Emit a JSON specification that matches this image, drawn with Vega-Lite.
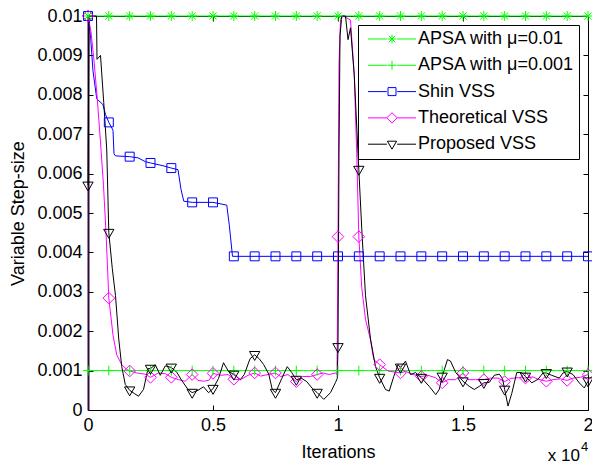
{
  "$schema": "https://vega.github.io/schema/vega-lite/v6.json",
  "autosize": "none",
  "width": 500,
  "height": 394,
  "padding": {"left": 88, "top": 16, "right": 4, "bottom": 54},
  "background": "white",
  "config": {
    "view": {"stroke": null},
    "font": "Liberation Sans",
    "axis": {"grid": false, "labelFont": "Liberation Sans", "labelFontSize": 18, "labelColor": "black", "titleFont": "Liberation Sans", "titleFontSize": 18, "titleFontWeight": "normal", "titleColor": "black", "tickColor": "black", "domainColor": "black", "tickSize": -5},
    "legend": {"strokeColor": "black", "fillColor": "white", "padding": 5, "cornerRadius": 0, "labelFont": "Liberation Sans", "labelFontSize": 18, "labelColor": "black", "symbolSize": 64, "symbolStrokeWidth": 1, "symbolOffset": 20, "labelOffset": 17, "rowPadding": 8.3, "labelLimit": 300}
  },
  "datasets": {
    "lines": [
      {"s": "APSA with μ=0.01", "x": 0, "y": 0.01}, {"s": "APSA with μ=0.01", "x": 2, "y": 0.01},
      {"s": "APSA with μ=0.001", "x": 0, "y": 0.001}, {"s": "APSA with μ=0.001", "x": 2, "y": 0.001},
      {"s": "Shin VSS", "x": 0, "y": 0.01}, {"s": "Shin VSS", "x": 0.01, "y": 0.0095}, {"s": "Shin VSS", "x": 0.02, "y": 0.0086}, {"s": "Shin VSS", "x": 0.035, "y": 0.0079}, {"s": "Shin VSS", "x": 0.06, "y": 0.00775}, {"s": "Shin VSS", "x": 0.07, "y": 0.0075}, {"s": "Shin VSS", "x": 0.0833, "y": 0.0073}, {"s": "Shin VSS", "x": 0.1, "y": 0.0071}, {"s": "Shin VSS", "x": 0.104, "y": 0.0065}, {"s": "Shin VSS", "x": 0.11, "y": 0.00645}, {"s": "Shin VSS", "x": 0.1667, "y": 0.00643}, {"s": "Shin VSS", "x": 0.2, "y": 0.0064}, {"s": "Shin VSS", "x": 0.23, "y": 0.0063}, {"s": "Shin VSS", "x": 0.25, "y": 0.00627}, {"s": "Shin VSS", "x": 0.3, "y": 0.0062}, {"s": "Shin VSS", "x": 0.3333, "y": 0.00614}, {"s": "Shin VSS", "x": 0.36, "y": 0.0061}, {"s": "Shin VSS", "x": 0.372, "y": 0.0056}, {"s": "Shin VSS", "x": 0.383, "y": 0.0053}, {"s": "Shin VSS", "x": 0.4167, "y": 0.00527}, {"s": "Shin VSS", "x": 0.5, "y": 0.00527}, {"s": "Shin VSS", "x": 0.555, "y": 0.0052}, {"s": "Shin VSS", "x": 0.565, "y": 0.0047}, {"s": "Shin VSS", "x": 0.578, "y": 0.0039}, {"s": "Shin VSS", "x": 2, "y": 0.0039},
      {"s": "Theoretical VSS", "x": 0, "y": 0.01}, {"s": "Theoretical VSS", "x": 0.012, "y": 0.0096}, {"s": "Theoretical VSS", "x": 0.025, "y": 0.0088}, {"s": "Theoretical VSS", "x": 0.037, "y": 0.0079}, {"s": "Theoretical VSS", "x": 0.05, "y": 0.0068}, {"s": "Theoretical VSS", "x": 0.062, "y": 0.0057}, {"s": "Theoretical VSS", "x": 0.072, "y": 0.0045}, {"s": "Theoretical VSS", "x": 0.0833, "y": 0.00284}, {"s": "Theoretical VSS", "x": 0.1, "y": 0.0019}, {"s": "Theoretical VSS", "x": 0.115, "y": 0.0014}, {"s": "Theoretical VSS", "x": 0.135, "y": 0.00115}, {"s": "Theoretical VSS", "x": 0.155, "y": 0.00103}, {"s": "Theoretical VSS", "x": 0.1667, "y": 0.00099}, {"s": "Theoretical VSS", "x": 0.195, "y": 0.00094}, {"s": "Theoretical VSS", "x": 0.227, "y": 0.00091}, {"s": "Theoretical VSS", "x": 0.25, "y": 0.00083}, {"s": "Theoretical VSS", "x": 0.282, "y": 0.00094}, {"s": "Theoretical VSS", "x": 0.31, "y": 0.00092}, {"s": "Theoretical VSS", "x": 0.3333, "y": 0.00083}, {"s": "Theoretical VSS", "x": 0.362, "y": 0.00077}, {"s": "Theoretical VSS", "x": 0.389, "y": 0.00073}, {"s": "Theoretical VSS", "x": 0.4167, "y": 0.0009}, {"s": "Theoretical VSS", "x": 0.44, "y": 0.00075}, {"s": "Theoretical VSS", "x": 0.465, "y": 0.00073}, {"s": "Theoretical VSS", "x": 0.485, "y": 0.00076}, {"s": "Theoretical VSS", "x": 0.5, "y": 0.00093}, {"s": "Theoretical VSS", "x": 0.53, "y": 0.00088}, {"s": "Theoretical VSS", "x": 0.56, "y": 0.0009}, {"s": "Theoretical VSS", "x": 0.5833, "y": 0.00078}, {"s": "Theoretical VSS", "x": 0.61, "y": 0.00077}, {"s": "Theoretical VSS", "x": 0.64, "y": 0.00088}, {"s": "Theoretical VSS", "x": 0.6667, "y": 0.00094}, {"s": "Theoretical VSS", "x": 0.69, "y": 0.00086}, {"s": "Theoretical VSS", "x": 0.72, "y": 0.0009}, {"s": "Theoretical VSS", "x": 0.75, "y": 0.00094}, {"s": "Theoretical VSS", "x": 0.77, "y": 0.00085}, {"s": "Theoretical VSS", "x": 0.8, "y": 0.0009}, {"s": "Theoretical VSS", "x": 0.8333, "y": 0.00072}, {"s": "Theoretical VSS", "x": 0.86, "y": 0.00085}, {"s": "Theoretical VSS", "x": 0.89, "y": 0.00085}, {"s": "Theoretical VSS", "x": 0.9167, "y": 0.0009}, {"s": "Theoretical VSS", "x": 0.94, "y": 0.00094}, {"s": "Theoretical VSS", "x": 0.965, "y": 0.0009}, {"s": "Theoretical VSS", "x": 0.99, "y": 0.00094}, {"s": "Theoretical VSS", "x": 0.996, "y": 0.0009}, {"s": "Theoretical VSS", "x": 1, "y": 0.0044}, {"s": "Theoretical VSS", "x": 1.004, "y": 0.0088}, {"s": "Theoretical VSS", "x": 1.01, "y": 0.0099}, {"s": "Theoretical VSS", "x": 1.02, "y": 0.01}, {"s": "Theoretical VSS", "x": 1.05, "y": 0.0099}, {"s": "Theoretical VSS", "x": 1.065, "y": 0.0085}, {"s": "Theoretical VSS", "x": 1.075, "y": 0.0065}, {"s": "Theoretical VSS", "x": 1.0833, "y": 0.0044}, {"s": "Theoretical VSS", "x": 1.095, "y": 0.0031}, {"s": "Theoretical VSS", "x": 1.11, "y": 0.0023}, {"s": "Theoretical VSS", "x": 1.13, "y": 0.00178}, {"s": "Theoretical VSS", "x": 1.143, "y": 0.00128}, {"s": "Theoretical VSS", "x": 1.1667, "y": 0.00115}, {"s": "Theoretical VSS", "x": 1.2, "y": 0.00099}, {"s": "Theoretical VSS", "x": 1.23, "y": 0.00096}, {"s": "Theoretical VSS", "x": 1.25, "y": 0.00094}, {"s": "Theoretical VSS", "x": 1.27, "y": 0.00098}, {"s": "Theoretical VSS", "x": 1.3, "y": 0.0009}, {"s": "Theoretical VSS", "x": 1.3333, "y": 0.00085}, {"s": "Theoretical VSS", "x": 1.36, "y": 0.00088}, {"s": "Theoretical VSS", "x": 1.39, "y": 0.00082}, {"s": "Theoretical VSS", "x": 1.4167, "y": 0.00069}, {"s": "Theoretical VSS", "x": 1.44, "y": 0.00077}, {"s": "Theoretical VSS", "x": 1.47, "y": 0.00077}, {"s": "Theoretical VSS", "x": 1.5, "y": 0.00094}, {"s": "Theoretical VSS", "x": 1.52, "y": 0.00077}, {"s": "Theoretical VSS", "x": 1.55, "y": 0.00077}, {"s": "Theoretical VSS", "x": 1.5833, "y": 0.00077}, {"s": "Theoretical VSS", "x": 1.61, "y": 0.00081}, {"s": "Theoretical VSS", "x": 1.64, "y": 0.00081}, {"s": "Theoretical VSS", "x": 1.6667, "y": 0.00072}, {"s": "Theoretical VSS", "x": 1.69, "y": 0.0008}, {"s": "Theoretical VSS", "x": 1.72, "y": 0.00082}, {"s": "Theoretical VSS", "x": 1.75, "y": 0.00081}, {"s": "Theoretical VSS", "x": 1.78, "y": 0.00084}, {"s": "Theoretical VSS", "x": 1.8, "y": 0.00078}, {"s": "Theoretical VSS", "x": 1.8333, "y": 0.00073}, {"s": "Theoretical VSS", "x": 1.86, "y": 0.00077}, {"s": "Theoretical VSS", "x": 1.89, "y": 0.00079}, {"s": "Theoretical VSS", "x": 1.9167, "y": 0.00075}, {"s": "Theoretical VSS", "x": 1.94, "y": 0.00081}, {"s": "Theoretical VSS", "x": 1.97, "y": 0.00083}, {"s": "Theoretical VSS", "x": 2, "y": 0.0009},
      {"s": "Proposed VSS", "x": 0, "y": 0.0057}, {"s": "Proposed VSS", "x": 0.004, "y": 0.01}, {"s": "Proposed VSS", "x": 0.034, "y": 0.01}, {"s": "Proposed VSS", "x": 0.036, "y": 0.0089}, {"s": "Proposed VSS", "x": 0.05, "y": 0.009}, {"s": "Proposed VSS", "x": 0.063, "y": 0.0078}, {"s": "Proposed VSS", "x": 0.075, "y": 0.0066}, {"s": "Proposed VSS", "x": 0.0833, "y": 0.0045}, {"s": "Proposed VSS", "x": 0.097, "y": 0.0036}, {"s": "Proposed VSS", "x": 0.11, "y": 0.0029}, {"s": "Proposed VSS", "x": 0.123, "y": 0.0018}, {"s": "Proposed VSS", "x": 0.135, "y": 0.0011}, {"s": "Proposed VSS", "x": 0.149, "y": 0.00065}, {"s": "Proposed VSS", "x": 0.1667, "y": 0.0005}, {"s": "Proposed VSS", "x": 0.185, "y": 0.00042}, {"s": "Proposed VSS", "x": 0.202, "y": 0.00035}, {"s": "Proposed VSS", "x": 0.222, "y": 0.00052}, {"s": "Proposed VSS", "x": 0.24, "y": 0.00105}, {"s": "Proposed VSS", "x": 0.25, "y": 0.00105}, {"s": "Proposed VSS", "x": 0.269, "y": 0.00115}, {"s": "Proposed VSS", "x": 0.289, "y": 0.00088}, {"s": "Proposed VSS", "x": 0.309, "y": 0.00112}, {"s": "Proposed VSS", "x": 0.3333, "y": 0.00108}, {"s": "Proposed VSS", "x": 0.355, "y": 0.00096}, {"s": "Proposed VSS", "x": 0.375, "y": 0.00075}, {"s": "Proposed VSS", "x": 0.4, "y": 0.00052}, {"s": "Proposed VSS", "x": 0.4167, "y": 0.00044}, {"s": "Proposed VSS", "x": 0.44, "y": 0.0005}, {"s": "Proposed VSS", "x": 0.462, "y": 0.00059}, {"s": "Proposed VSS", "x": 0.482, "y": 0.00044}, {"s": "Proposed VSS", "x": 0.5, "y": 0.00054}, {"s": "Proposed VSS", "x": 0.522, "y": 0.0008}, {"s": "Proposed VSS", "x": 0.542, "y": 0.0012}, {"s": "Proposed VSS", "x": 0.562, "y": 0.00098}, {"s": "Proposed VSS", "x": 0.5833, "y": 0.0009}, {"s": "Proposed VSS", "x": 0.609, "y": 0.00077}, {"s": "Proposed VSS", "x": 0.625, "y": 0.0009}, {"s": "Proposed VSS", "x": 0.648, "y": 0.0013}, {"s": "Proposed VSS", "x": 0.6667, "y": 0.0014}, {"s": "Proposed VSS", "x": 0.685, "y": 0.0013}, {"s": "Proposed VSS", "x": 0.703, "y": 0.00115}, {"s": "Proposed VSS", "x": 0.723, "y": 0.00091}, {"s": "Proposed VSS", "x": 0.737, "y": 0.00052}, {"s": "Proposed VSS", "x": 0.75, "y": 0.00044}, {"s": "Proposed VSS", "x": 0.775, "y": 0.0008}, {"s": "Proposed VSS", "x": 0.797, "y": 0.0011}, {"s": "Proposed VSS", "x": 0.815, "y": 0.00095}, {"s": "Proposed VSS", "x": 0.8333, "y": 0.00077}, {"s": "Proposed VSS", "x": 0.855, "y": 0.0008}, {"s": "Proposed VSS", "x": 0.875, "y": 0.00072}, {"s": "Proposed VSS", "x": 0.897, "y": 0.00055}, {"s": "Proposed VSS", "x": 0.9167, "y": 0.00044}, {"s": "Proposed VSS", "x": 0.943, "y": 0.00027}, {"s": "Proposed VSS", "x": 0.97, "y": 0.00044}, {"s": "Proposed VSS", "x": 0.99, "y": 0.0007}, {"s": "Proposed VSS", "x": 0.997, "y": 0.0008}, {"s": "Proposed VSS", "x": 1, "y": 0.0016}, {"s": "Proposed VSS", "x": 1.004, "y": 0.0065}, {"s": "Proposed VSS", "x": 1.008, "y": 0.0095}, {"s": "Proposed VSS", "x": 1.015, "y": 0.01}, {"s": "Proposed VSS", "x": 1.03, "y": 0.01}, {"s": "Proposed VSS", "x": 1.04, "y": 0.0094}, {"s": "Proposed VSS", "x": 1.05, "y": 0.0097}, {"s": "Proposed VSS", "x": 1.065, "y": 0.0085}, {"s": "Proposed VSS", "x": 1.0833, "y": 0.0061}, {"s": "Proposed VSS", "x": 1.095, "y": 0.0046}, {"s": "Proposed VSS", "x": 1.11, "y": 0.0029}, {"s": "Proposed VSS", "x": 1.13, "y": 0.0018}, {"s": "Proposed VSS", "x": 1.15, "y": 0.0011}, {"s": "Proposed VSS", "x": 1.1667, "y": 0.00082}, {"s": "Proposed VSS", "x": 1.19, "y": 0.00052}, {"s": "Proposed VSS", "x": 1.205, "y": 0.00048}, {"s": "Proposed VSS", "x": 1.223, "y": 0.00085}, {"s": "Proposed VSS", "x": 1.24, "y": 0.00115}, {"s": "Proposed VSS", "x": 1.25, "y": 0.00108}, {"s": "Proposed VSS", "x": 1.27, "y": 0.00124}, {"s": "Proposed VSS", "x": 1.29, "y": 0.0009}, {"s": "Proposed VSS", "x": 1.31, "y": 0.00095}, {"s": "Proposed VSS", "x": 1.3333, "y": 0.00082}, {"s": "Proposed VSS", "x": 1.365, "y": 0.0006}, {"s": "Proposed VSS", "x": 1.391, "y": 0.00039}, {"s": "Proposed VSS", "x": 1.405, "y": 0.00052}, {"s": "Proposed VSS", "x": 1.4167, "y": 0.00085}, {"s": "Proposed VSS", "x": 1.438, "y": 0.00128}, {"s": "Proposed VSS", "x": 1.45, "y": 0.00124}, {"s": "Proposed VSS", "x": 1.471, "y": 0.00095}, {"s": "Proposed VSS", "x": 1.5, "y": 0.00073}, {"s": "Proposed VSS", "x": 1.525, "y": 0.0006}, {"s": "Proposed VSS", "x": 1.545, "y": 0.00052}, {"s": "Proposed VSS", "x": 1.565, "y": 0.0006}, {"s": "Proposed VSS", "x": 1.5833, "y": 0.00069}, {"s": "Proposed VSS", "x": 1.605, "y": 0.0007}, {"s": "Proposed VSS", "x": 1.625, "y": 0.00088}, {"s": "Proposed VSS", "x": 1.645, "y": 0.00091}, {"s": "Proposed VSS", "x": 1.658, "y": 0.0008}, {"s": "Proposed VSS", "x": 1.6667, "y": 0.00052}, {"s": "Proposed VSS", "x": 1.68, "y": 0.0001}, {"s": "Proposed VSS", "x": 1.695, "y": 0.00042}, {"s": "Proposed VSS", "x": 1.715, "y": 0.00095}, {"s": "Proposed VSS", "x": 1.735, "y": 0.00095}, {"s": "Proposed VSS", "x": 1.75, "y": 0.00085}, {"s": "Proposed VSS", "x": 1.775, "y": 0.00069}, {"s": "Proposed VSS", "x": 1.8, "y": 0.00078}, {"s": "Proposed VSS", "x": 1.82, "y": 0.00094}, {"s": "Proposed VSS", "x": 1.8333, "y": 0.00094}, {"s": "Proposed VSS", "x": 1.855, "y": 0.00088}, {"s": "Proposed VSS", "x": 1.885, "y": 0.00081}, {"s": "Proposed VSS", "x": 1.9, "y": 0.00094}, {"s": "Proposed VSS", "x": 1.9167, "y": 0.00098}, {"s": "Proposed VSS", "x": 1.94, "y": 0.0009}, {"s": "Proposed VSS", "x": 1.965, "y": 0.00069}, {"s": "Proposed VSS", "x": 1.985, "y": 0.00056}, {"s": "Proposed VSS", "x": 2, "y": 0.00073}
    ],
    "markers": [
      {"s": "APSA with μ=0.01", "x": 0, "y": 0.01}, {"s": "APSA with μ=0.01", "x": 0.0833, "y": 0.01}, {"s": "APSA with μ=0.01", "x": 0.1667, "y": 0.01}, {"s": "APSA with μ=0.01", "x": 0.25, "y": 0.01}, {"s": "APSA with μ=0.01", "x": 0.3333, "y": 0.01}, {"s": "APSA with μ=0.01", "x": 0.4167, "y": 0.01}, {"s": "APSA with μ=0.01", "x": 0.5, "y": 0.01}, {"s": "APSA with μ=0.01", "x": 0.5833, "y": 0.01}, {"s": "APSA with μ=0.01", "x": 0.6667, "y": 0.01}, {"s": "APSA with μ=0.01", "x": 0.75, "y": 0.01}, {"s": "APSA with μ=0.01", "x": 0.8333, "y": 0.01}, {"s": "APSA with μ=0.01", "x": 0.9167, "y": 0.01}, {"s": "APSA with μ=0.01", "x": 1, "y": 0.01}, {"s": "APSA with μ=0.01", "x": 1.0833, "y": 0.01}, {"s": "APSA with μ=0.01", "x": 1.1667, "y": 0.01}, {"s": "APSA with μ=0.01", "x": 1.25, "y": 0.01}, {"s": "APSA with μ=0.01", "x": 1.3333, "y": 0.01}, {"s": "APSA with μ=0.01", "x": 1.4167, "y": 0.01}, {"s": "APSA with μ=0.01", "x": 1.5, "y": 0.01}, {"s": "APSA with μ=0.01", "x": 1.5833, "y": 0.01}, {"s": "APSA with μ=0.01", "x": 1.6667, "y": 0.01}, {"s": "APSA with μ=0.01", "x": 1.75, "y": 0.01}, {"s": "APSA with μ=0.01", "x": 1.8333, "y": 0.01}, {"s": "APSA with μ=0.01", "x": 1.9167, "y": 0.01}, {"s": "APSA with μ=0.01", "x": 2, "y": 0.01},
      {"s": "APSA with μ=0.001", "x": 0, "y": 0.001}, {"s": "APSA with μ=0.001", "x": 0.0833, "y": 0.001}, {"s": "APSA with μ=0.001", "x": 0.1667, "y": 0.001}, {"s": "APSA with μ=0.001", "x": 0.25, "y": 0.001}, {"s": "APSA with μ=0.001", "x": 0.3333, "y": 0.001}, {"s": "APSA with μ=0.001", "x": 0.4167, "y": 0.001}, {"s": "APSA with μ=0.001", "x": 0.5, "y": 0.001}, {"s": "APSA with μ=0.001", "x": 0.5833, "y": 0.001}, {"s": "APSA with μ=0.001", "x": 0.6667, "y": 0.001}, {"s": "APSA with μ=0.001", "x": 0.75, "y": 0.001}, {"s": "APSA with μ=0.001", "x": 0.8333, "y": 0.001}, {"s": "APSA with μ=0.001", "x": 0.9167, "y": 0.001}, {"s": "APSA with μ=0.001", "x": 1, "y": 0.001}, {"s": "APSA with μ=0.001", "x": 1.0833, "y": 0.001}, {"s": "APSA with μ=0.001", "x": 1.1667, "y": 0.001}, {"s": "APSA with μ=0.001", "x": 1.25, "y": 0.001}, {"s": "APSA with μ=0.001", "x": 1.3333, "y": 0.001}, {"s": "APSA with μ=0.001", "x": 1.4167, "y": 0.001}, {"s": "APSA with μ=0.001", "x": 1.5, "y": 0.001}, {"s": "APSA with μ=0.001", "x": 1.5833, "y": 0.001}, {"s": "APSA with μ=0.001", "x": 1.6667, "y": 0.001}, {"s": "APSA with μ=0.001", "x": 1.75, "y": 0.001}, {"s": "APSA with μ=0.001", "x": 1.8333, "y": 0.001}, {"s": "APSA with μ=0.001", "x": 1.9167, "y": 0.001}, {"s": "APSA with μ=0.001", "x": 2, "y": 0.001},
      {"s": "Shin VSS", "x": 0, "y": 0.01}, {"s": "Shin VSS", "x": 0.0833, "y": 0.0073}, {"s": "Shin VSS", "x": 0.1667, "y": 0.00643}, {"s": "Shin VSS", "x": 0.25, "y": 0.00627}, {"s": "Shin VSS", "x": 0.3333, "y": 0.00614}, {"s": "Shin VSS", "x": 0.4167, "y": 0.00527}, {"s": "Shin VSS", "x": 0.5, "y": 0.00527}, {"s": "Shin VSS", "x": 0.5833, "y": 0.0039}, {"s": "Shin VSS", "x": 0.6667, "y": 0.0039}, {"s": "Shin VSS", "x": 0.75, "y": 0.0039}, {"s": "Shin VSS", "x": 0.8333, "y": 0.0039}, {"s": "Shin VSS", "x": 0.9167, "y": 0.0039}, {"s": "Shin VSS", "x": 1, "y": 0.0039}, {"s": "Shin VSS", "x": 1.0833, "y": 0.0039}, {"s": "Shin VSS", "x": 1.1667, "y": 0.0039}, {"s": "Shin VSS", "x": 1.25, "y": 0.0039}, {"s": "Shin VSS", "x": 1.3333, "y": 0.0039}, {"s": "Shin VSS", "x": 1.4167, "y": 0.0039}, {"s": "Shin VSS", "x": 1.5, "y": 0.0039}, {"s": "Shin VSS", "x": 1.5833, "y": 0.0039}, {"s": "Shin VSS", "x": 1.6667, "y": 0.0039}, {"s": "Shin VSS", "x": 1.75, "y": 0.0039}, {"s": "Shin VSS", "x": 1.8333, "y": 0.0039}, {"s": "Shin VSS", "x": 1.9167, "y": 0.0039}, {"s": "Shin VSS", "x": 2, "y": 0.0039},
      {"s": "Theoretical VSS", "x": 0, "y": 0.01}, {"s": "Theoretical VSS", "x": 0.0833, "y": 0.00284}, {"s": "Theoretical VSS", "x": 0.1667, "y": 0.00099}, {"s": "Theoretical VSS", "x": 0.25, "y": 0.00083}, {"s": "Theoretical VSS", "x": 0.3333, "y": 0.00083}, {"s": "Theoretical VSS", "x": 0.4167, "y": 0.0009}, {"s": "Theoretical VSS", "x": 0.5, "y": 0.00093}, {"s": "Theoretical VSS", "x": 0.5833, "y": 0.00078}, {"s": "Theoretical VSS", "x": 0.6667, "y": 0.00094}, {"s": "Theoretical VSS", "x": 0.75, "y": 0.00094}, {"s": "Theoretical VSS", "x": 0.8333, "y": 0.00072}, {"s": "Theoretical VSS", "x": 0.9167, "y": 0.0009}, {"s": "Theoretical VSS", "x": 1, "y": 0.0044}, {"s": "Theoretical VSS", "x": 1.0833, "y": 0.0044}, {"s": "Theoretical VSS", "x": 1.1667, "y": 0.00115}, {"s": "Theoretical VSS", "x": 1.25, "y": 0.00094}, {"s": "Theoretical VSS", "x": 1.3333, "y": 0.00085}, {"s": "Theoretical VSS", "x": 1.4167, "y": 0.00069}, {"s": "Theoretical VSS", "x": 1.5, "y": 0.00094}, {"s": "Theoretical VSS", "x": 1.5833, "y": 0.00077}, {"s": "Theoretical VSS", "x": 1.6667, "y": 0.00072}, {"s": "Theoretical VSS", "x": 1.75, "y": 0.00081}, {"s": "Theoretical VSS", "x": 1.8333, "y": 0.00073}, {"s": "Theoretical VSS", "x": 1.9167, "y": 0.00075}, {"s": "Theoretical VSS", "x": 2, "y": 0.0009},
      {"s": "Proposed VSS", "x": 0, "y": 0.0057}, {"s": "Proposed VSS", "x": 0.0833, "y": 0.0045}, {"s": "Proposed VSS", "x": 0.1667, "y": 0.0005}, {"s": "Proposed VSS", "x": 0.25, "y": 0.00105}, {"s": "Proposed VSS", "x": 0.3333, "y": 0.00108}, {"s": "Proposed VSS", "x": 0.4167, "y": 0.00044}, {"s": "Proposed VSS", "x": 0.5, "y": 0.00054}, {"s": "Proposed VSS", "x": 0.5833, "y": 0.0009}, {"s": "Proposed VSS", "x": 0.6667, "y": 0.0014}, {"s": "Proposed VSS", "x": 0.75, "y": 0.00044}, {"s": "Proposed VSS", "x": 0.8333, "y": 0.00077}, {"s": "Proposed VSS", "x": 0.9167, "y": 0.00044}, {"s": "Proposed VSS", "x": 1, "y": 0.0016}, {"s": "Proposed VSS", "x": 1.0833, "y": 0.0061}, {"s": "Proposed VSS", "x": 1.1667, "y": 0.00082}, {"s": "Proposed VSS", "x": 1.25, "y": 0.00108}, {"s": "Proposed VSS", "x": 1.3333, "y": 0.00082}, {"s": "Proposed VSS", "x": 1.4167, "y": 0.00085}, {"s": "Proposed VSS", "x": 1.5, "y": 0.00073}, {"s": "Proposed VSS", "x": 1.5833, "y": 0.00069}, {"s": "Proposed VSS", "x": 1.6667, "y": 0.00052}, {"s": "Proposed VSS", "x": 1.75, "y": 0.00085}, {"s": "Proposed VSS", "x": 1.8333, "y": 0.00094}, {"s": "Proposed VSS", "x": 1.9167, "y": 0.00098}, {"s": "Proposed VSS", "x": 2, "y": 0.00073}
    ],
    "mult": [{"t": "x 10"}],
    "expo": [{"t": "4"}]
  },
  "layer": [
    {
      "data": {"name": "lines"},
      "mark": {"type": "line", "strokeWidth": 1, "clip": false},
      "encoding": {
        "x": {"field": "x", "type": "quantitative", "scale": {"domain": [0, 2], "nice": false, "zero": false},
          "axis": {"orient": "bottom", "values": [0, 0.5, 1, 1.5, 2], "labelExpr": "format(datum.value, '~g')", "labelPadding": 11, "labelFlush": false, "title": "Iterations", "titleY": 47, "titleBaseline": "alphabetic"}},
        "y": {"field": "y", "type": "quantitative", "scale": {"domain": [0, 0.01], "nice": false},
          "axis": {"orient": "left", "values": [0, 0.001, 0.002, 0.003, 0.004, 0.005, 0.006, 0.007, 0.008, 0.009, 0.01], "labelExpr": "format(datum.value, '~g')", "labelPadding": 11, "labelFlush": false, "domainColor": "#2e0a3c", "domainWidth": 2, "title": "Variable Step-size", "titleX": -70, "titleY": 197, "titleAngle": -90, "titleAlign": "center", "titleBaseline": "middle"}},
        "color": {"field": "s", "type": "nominal",
          "scale": {"domain": ["APSA with μ=0.01", "APSA with μ=0.001", "Shin VSS", "Theoretical VSS", "Proposed VSS"], "range": ["#00ff00", "#00ff00", "#0000ff", "#ff00ff", "#000000"]},
          "legend": {"title": null, "orient": "none", "legendX": 270, "legendY": 9, "encode": {"symbols": {"update": {"shape": {"signal": "'M-6,0H-1.3M1.3,0H6' + scale('shape', datum.value)"}, "fill": {"value": "transparent"}}}}}}
      }
    },
    {
      "data": {"name": "markers"},
      "mark": {"type": "point", "filled": false, "size": 80, "strokeWidth": 1, "opacity": 1, "clip": false},
      "encoding": {
        "x": {"field": "x", "type": "quantitative", "axis": {"orient": "top", "values": [0, 0.5, 1, 1.5, 2], "labels": false, "title": null}},
        "y": {"field": "y", "type": "quantitative", "axis": {"orient": "right", "values": [0, 0.001, 0.002, 0.003, 0.004, 0.005, 0.006, 0.007, 0.008, 0.009, 0.01], "labels": false, "title": null}},
        "color": {"field": "s", "type": "nominal",
          "legend": {"title": null, "orient": "none", "legendX": 270, "legendY": 9, "encode": {"symbols": {"update": {"shape": {"signal": "'M-6,0H-1.3M1.3,0H6' + scale('shape', datum.value)"}, "fill": {"value": "transparent"}}}}}},
        "shape": {"field": "s", "type": "nominal", "legend": null,
          "scale": {"domain": ["Proposed VSS", "Theoretical VSS", "Shin VSS", "APSA with μ=0.001", "APSA with μ=0.01"],
            "range": ["M-1.15,-0.75H1.15L0,1.25Z", "M0,-1.3L1.3,0L0,1.3L-1.3,0Z", "M-1,-1H1V1H-1Z", "M0,-1.1V1.1M-1.1,0H1.1", "M0,-1.1V1.1M-1.1,0H1.1M-0.8,-0.8L0.8,0.8M-0.8,0.8L0.8,-0.8"]}}
      }
    },
    {
      "data": {"name": "mult"},
      "mark": {"type": "text", "align": "right", "baseline": "alphabetic", "dx": -8, "dy": 51, "fontSize": 17, "font": "Liberation Sans", "color": "black", "clip": false},
      "encoding": {"x": {"datum": 2, "type": "quantitative", "axis": null}, "y": {"datum": 0, "type": "quantitative", "axis": null}, "text": {"field": "t"}}
    },
    {
      "data": {"name": "expo"},
      "mark": {"type": "text", "align": "left", "baseline": "alphabetic", "dx": -7, "dy": 41, "fontSize": 13, "font": "Liberation Sans", "color": "black", "clip": false},
      "encoding": {"x": {"datum": 2, "type": "quantitative", "axis": null}, "y": {"datum": 0, "type": "quantitative", "axis": null}, "text": {"field": "t"}}
    }
  ],
  "resolve": {"axis": {"x": "independent", "y": "independent"}}
}
